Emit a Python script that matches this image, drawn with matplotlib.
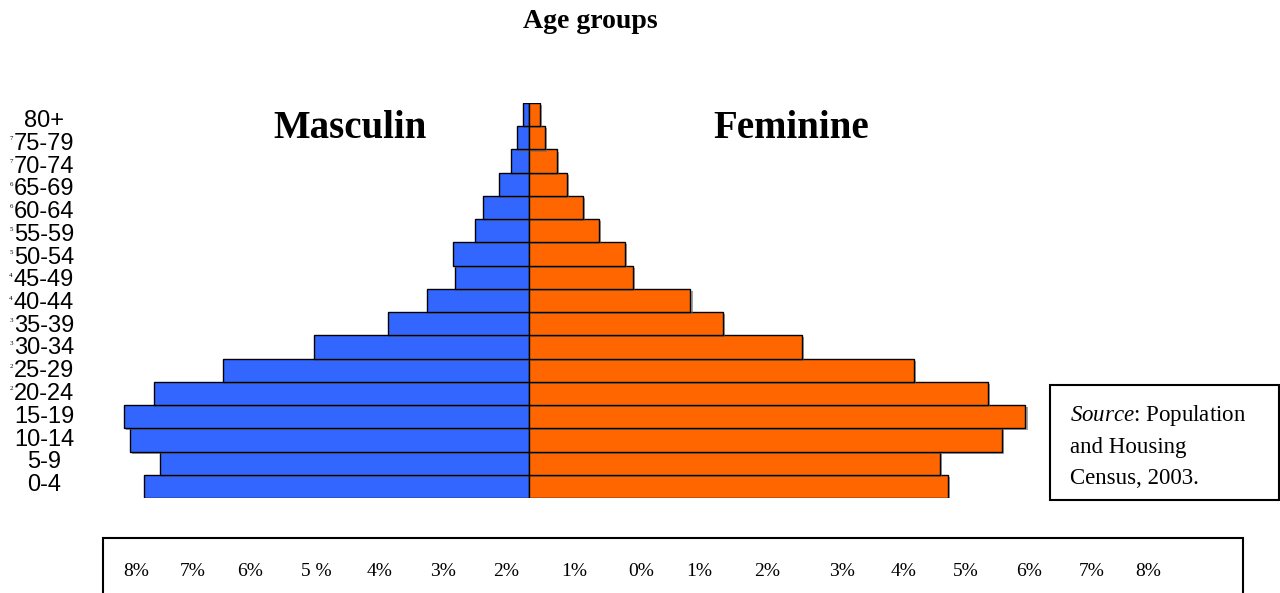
import matplotlib
matplotlib.use("Agg")
from matplotlib import pyplot as plt
import matplotlib.patheffects as pe

# age groups, bottom (youngest) to top
ageGroups = ["0-4", "5-9", "10-14", "15-19", "20-24", "25-29", "30-34", "35-39",
             "40-44", "45-49", "50-54", "55-59", "60-64", "65-69", "70-74", "75-79", "80+"]

# share of total population (%)
male = [5.75, 5.51, 5.95, 6.04, 5.60, 4.56, 3.21, 2.11,
        1.52, 1.10, 1.13, 0.80, 0.68, 0.45, 0.27, 0.18, 0.09]
female = [6.25, 6.13, 7.06, 7.41, 6.85, 5.75, 4.08, 2.89,
          2.41, 1.55, 1.43, 1.04, 0.80, 0.57, 0.42, 0.24, 0.16]

# little stray marks in front of some labels in the original
strayMarks = ["", "", "", "", "2", "2", "3", "3", "4", "4", "5", "5", "6", "6", "7", "7", ""]

# bottom "axis" labels (just text inside a box in the original)
scaleLabels = ["8%", "7%", "6%", "5 %", "4%", "3%", "2%", "1%", "0%",
               "1%", "2%", "3%", "4%", "5%", "6%", "7%", "8%"]
scaleX = [136, 193, 250, 316, 380, 443, 506, 574, 641, 699, 767, 842, 904, 966, 1029, 1092, 1148]

sourceLines = [r"$\mathit{Source}$: Population", "and Housing", "Census, 2003."]

W, H = 1280, 593
blue = "#3366FF"
orange = "#FF6600"
serif = ["Liberation Serif", "DejaVu Serif"]
plt.rcParams["mathtext.fontset"] = "custom"
plt.rcParams["mathtext.it"] = "Liberation Serif:italic"
plt.rcParams["mathtext.rm"] = "Liberation Serif"

fig = plt.figure(figsize=(W / 100, H / 100), dpi=100)

# axes placed in pixels: x 100..1045, bars y 103..498, centre line at 529
axLeft, axRight, axTop, axBottom = 100, 1045, 103, 498
pxPerPct = 67.0
centre = 529
axis = fig.add_axes([axLeft / W, 1 - axBottom / H, (axRight - axLeft) / W, (axBottom - axTop) / H])
axis.set_xlim(-(centre - axLeft) / pxPerPct, (axRight - centre) / pxPerPct)
axis.set_ylim(-0.5, len(ageGroups) - 0.5)

ypos = list(range(len(ageGroups)))
shadow = [pe.SimplePatchShadow(offset=(1.5, -1.5), shadow_rgbFace="0.4", alpha=0.6), pe.Normal()]
bl = axis.barh(ypos, [-m for m in male], height=1.0, color=blue, edgecolor="black", linewidth=1.0)
br = axis.barh(ypos, female, height=1.0, color=orange, edgecolor="black", linewidth=1.0)
for b in list(bl) + list(br):
    b.set_path_effects(shadow)

for s in axis.spines.values():
    s.set_visible(False)
axis.set_xticks([])
axis.set_yticks([])

# age labels sit on their own slightly tighter grid (121px .. 485px)
for i, (lab, m) in enumerate(zip(ageGroups, strayMarks)):
    ypx = 485 - i * (485 - 121) / (len(ageGroups) - 1)
    fig.text(44 / W, 1 - ypx / H, lab, fontsize=17, family=["Liberation Sans", "DejaVu Sans"],
             ha="center", va="center")
    if m:
        fig.text(11 / W, 1 - (ypx - 5) / H, m, fontsize=5, family=serif, ha="center", va="center")

axis.text(350 / W, 1 - 129 / H, "Masculin", transform=fig.transFigure, fontsize=28,
          fontweight="bold", family=serif, ha="center", va="center")
axis.text(791 / W, 1 - 129 / H, "Feminine", transform=fig.transFigure, fontsize=28,
          fontweight="bold", family=serif, ha="center", va="center")

fig.text(590 / W, 1 - 21 / H, "Age groups", fontsize=20, fontweight="bold",
         family=serif, ha="center", va="center")

# source box
fig.patches.append(plt.Rectangle((1050 / W, 1 - 500 / H), 229 / W, 115 / H,
                                 transform=fig.transFigure, fill=False,
                                 edgecolor="black", linewidth=1.5))
for i, line in enumerate(sourceLines):
    fig.text(1070 / W, 1 - (415 + 32 * i) / H, line, fontsize=16.5, family=serif, va="center")

# bottom scale box
fig.patches.append(plt.Rectangle((103 / W, -0.05), 1140 / W, 0.05 + (593 - 538) / H,
                                 transform=fig.transFigure, fill=False,
                                 edgecolor="black", linewidth=1.5))
for x, lab in zip(scaleX, scaleLabels):
    fig.text(x / W, 1 - 571 / H, lab, fontsize=14, family=serif, ha="center", va="center")

fig.savefig("out.png", dpi=100)
